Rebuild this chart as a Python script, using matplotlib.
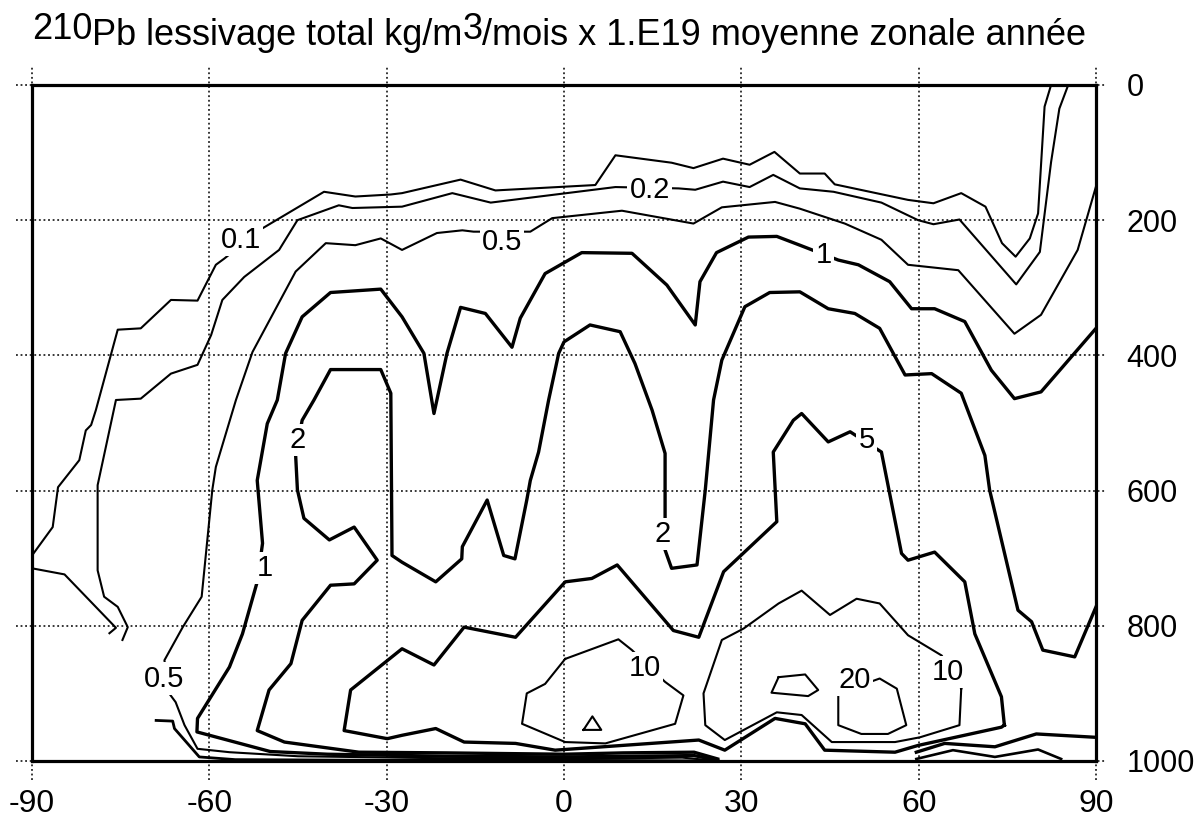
import matplotlib
matplotlib.use("Agg")
import matplotlib.pyplot as plt

plt.rcParams['font.family'] = ['Liberation Sans', 'DejaVu Sans']
plt.rcParams['axes.unicode_minus'] = False

# axes ticks
lat_ticks = [-90, -60, -30, 0, 30, 60, 90]
p_ticks = [0, 200, 400, 600, 800, 1000]

# contour 0.1 (main branch and short hooked branch at the left)
lat_c01a = [-90, -86.5, -85.6, -82.0, -80.9, -80.0, -79.2, -75.5, -71.6, -66.5,
            -62.0, -58.9, -57.5, -51.0, -40.6, -35.3, -29.3, -27.4, -17.5, -11.6,
            5.3, 8.7, 18.2, 21.9, 26.9, 31.4, 35.6, 39.9, 44.1, 45.8,
            58.2, 62.5, 67.2, 71.3, 74.1, 76.4, 78.8, 80.2, 81.3, 82.4]
p_c01a = [696, 654, 595, 555, 511, 503, 481, 362, 360, 318,
          319, 266, 257, 212, 158, 165, 162, 160, 140, 156,
          148, 104, 115, 123, 109, 118, 99, 131, 131, 147,
          170, 175, 160, 180, 234, 254, 227, 190, 32, 0]
lat_c01b = [-90, -84.5, -75.8, -76.9]
p_c01b = [715, 724, 803, 811]

# contour 0.2
lat_c02 = [-74.7, -73.8, -75.5, -77.8, -78.9, -78.9, -75.8, -71.6, -66.5, -62.0,
           -59.7, -57.8, -54.1, -48.2, -45.1, -38.1, -35.8, -27.4, -18.9, -12.4,
           8.7, 19.4, 22.2, 26.9, 31.4, 35.4, 39.9, 45.6, 53.7, 59.9,
           62.5, 66.9, 76.5, 80.5, 82.4, 83.8, 85.3]
p_c02 = [821, 802, 772, 757, 718, 592, 466, 464, 427, 414,
         370, 318, 284, 244, 200, 178, 182, 180, 160, 174,
         151, 153, 155, 143, 151, 133, 153, 158, 174, 200,
         206, 199, 295, 247, 114, 35, 0]

# contour 0.5
lat_c05 = [26, 20, 0, -20, -45, -56.6, -62.0, -64.2, -65.7, -66.8,
           -67.6, -64.5, -61.3, -59.5, -58.9, -55.5, -52.7, -45.4, -40.3, -35.3,
           -31.0, -27.4, -21.5, -17.2, -15.3, -5.7, -2.0, 9.8, 21.9, 26.7,
           35.7, 39.9, 47.5, 53.7, 58.2, 66.7, 76.2, 80.7, 86.9, 90]
p_c05 = [1000, 995, 997, 996, 993, 987, 982, 947, 913, 900,
         851, 802, 757, 599, 565, 466, 395, 276, 234, 237,
         227, 244, 219, 215, 217, 217, 197, 186, 205, 181,
         173, 183, 205, 229, 266, 274, 368, 340, 244, 150]

# contour 1
lat_c1 = [26, 22, 0, -20, -40, -49.7, -62.1, -62.0, -56.6, -54.4,
          -51.9, -51.0, -51.9, -50.2, -48.5, -47.1, -44.3, -39.5, -31.0, -27.4,
          -23.7, -22.0, -19.8, -17.5, -13.3, -8.8, -7.4, -3.2, 3.0, 11.5,
          17.4, 22.2, 23.0, 25.8, 31.2, 36.0, 39.9, 46.4, 49.8, 55.1,
          58.8, 62.7, 67.8, 72.3, 76.2, 80.7, 90]
p_c1 = [999, 992, 994, 993, 990, 986, 957, 937, 861, 812,
        735, 678, 585, 501, 466, 397, 343, 307, 302, 343,
        397, 486, 397, 329, 338, 388, 345, 279, 248, 249,
        296, 355, 291, 248, 225, 224, 237, 259, 266, 291,
        331, 331, 350, 422, 464, 454, 360]

# contour 2
lat_c2 = [26, 22, 10, 0, -20, -34.7, -47.3, -51.9, -49.9, -46.2,
          -44.3, -39.5, -35.5, -31.6, -35.5, -39.7, -44.0, -45.1, -45.4, -44.3,
          -42.3, -39.5, -31.0, -29.3, -29.1, -27.4, -21.7, -17.3, -17.2, -13.0,
          -10.2, -8.3, -6.3, -5.7, -4.3, -2.6, -0.9, 0, 4.4, 9.5,
          12.0, 14.9, 17.1, 17.1, 17.1, 18.2, 22.5, 23.9, 25.3, 26.7,
          30.6, 34.8, 39.9, 44.7, 49.2, 53.4, 57.7, 62.2, 67.2, 71.2,
          72.0, 76.8, 79.1, 81.0, 86.4, 90]
p_c2 = [997, 987, 988, 990, 988, 987, 972, 955, 895, 856,
        792, 740, 738, 703, 654, 673, 641, 599, 548, 496,
        466, 421, 421, 456, 696, 706, 735, 701, 683, 614,
        696, 701, 614, 585, 543, 466, 397, 380, 355, 365,
        412, 481, 545, 636, 688, 715, 710, 599, 466, 407,
        328, 307, 306, 331, 338, 360, 429, 427, 456, 548,
        599, 777, 794, 836, 846, 772]

# contour 5 (closed)
lat_c5 = [74.5, 74.0, 69.5, 67.8, 62.7, 58.2, 57.1, 53.7, 48.4, 44.7,
          40.2, 38.8, 35.4, 36.0, 27.0, 22.8, 18.5, 9.0, 4.7, 0.2,
          -8.2, -16.9, -22.0, -27.4, -36.1, -37.2, -29.9, -27.4, -21.7, -16.9,
          -8.2, -1.5, 22.8, 27.2, 35.7, 40.8, 44.1, 56.0, 59.9, 74.0, 74.5]
p_c5 = [947, 905, 812, 735, 691, 703, 693, 543, 513, 528,
        486, 496, 543, 646, 720, 817, 807, 710, 730, 735,
        817, 802, 858, 834, 895, 955, 967, 962, 952, 972,
        974, 984, 969, 984, 937, 945, 984, 987, 977, 950, 947]

# contour 10 (two cells)
lat_c10a = [0.2, 9.2, 11.5, 17.1, 20.2, 18.8, 7.0, 0.2, -7.1, -6.3, -3.2, 0.2]
p_c10a = [849, 820, 836, 883, 903, 945, 974, 972, 945, 900, 886, 849]
lat_c10b = [67.2, 66.9, 60.2, 56.0, 45.3, 40.2, 36.0, 27.2, 23.9, 23.6,
            26.7, 30.4, 36.3, 40.2, 45.0, 49.5, 53.4, 58.2, 63.9, 67.2]
p_c10b = [893, 947, 965, 972, 972, 932, 928, 969, 947, 900,
          821, 804, 767, 748, 784, 760, 767, 814, 844, 893]

# contour 20 (three small cells)
lat_c20a = [46.4, 46.4, 50.3, 54.8, 57.9, 56.3, 53.4, 46.4]
p_c20a = [900, 947, 960, 960, 947, 893, 878, 900]
lat_c20b = [36.3, 40.8, 43.0, 41.3, 35.1, 36.3]
p_c20b = [876, 872, 895, 904, 899, 876]
lat_c20c = [3.3, 4.8, 6.3, 3.3]
p_c20c = [954, 934, 954, 954]

# contours hugging the surface
lat_sa = [59.6, 64.4, 72.9, 79.9, 90]
p_sa = [987, 974, 979, 960, 965]
lat_sb = [59.6, 65.8, 72.9, 80.2, 84.1]
p_sb = [997, 984, 994, 983, 997]
lat_sc = [-69.0, -66.2, -65.9, -61.7, -55.6, -30, 0, 26]
p_sc = [940, 941, 952, 994, 998, 999, 999, 1000]

# contour labels
label_txt = ['0.1', '0.2', '0.5', '0.5', '1', '1', '2', '2', '5', '10', '10', '20']
label_lat = [-54.7, 14.5, -10.5, -67.6, -50.7, 43.9, -45.1, 16.6, 51.2, 13.7, 65.0, 49.2]
label_p = [229, 155, 232, 878, 715, 252, 525, 664, 525, 863, 868, 880]

THIN, THICK = 1.5, 2.4
lines = [
    (lat_c01a, p_c01a, THIN), (lat_c01b, p_c01b, THIN),
    (lat_c02, p_c02, THIN), (lat_c05, p_c05, THIN),
    (lat_c1, p_c1, THICK), (lat_c2, p_c2, THICK), (lat_c5, p_c5, THICK),
    (lat_c10a, p_c10a, THIN), (lat_c10b, p_c10b, THIN),
    (lat_c20a, p_c20a, THIN), (lat_c20b, p_c20b, THIN), (lat_c20c, p_c20c, THIN),
    (lat_sa, p_sa, THICK), (lat_sb, p_sb, 1.9), (lat_sc, p_sc, 2.0),
]

fig = plt.figure(figsize=(11.99, 8.21), dpi=100)
ax = fig.add_axes([0.0267, 0.0731, 0.8874, 0.8234])
ax.set_xlim(-90, 90)
ax.set_ylim(1000, 0)
ax.set_xticks(lat_ticks)
ax.set_yticks(p_ticks)
ax.yaxis.tick_right()
ax.tick_params(length=0)
ax.tick_params(axis='x', pad=20, labelsize=23)
ax.tick_params(axis='y', pad=22, labelsize=22)
for sp in ax.spines.values():
    sp.set_linewidth(2.3)
    sp.set_zorder(4)

# dotted grid, running a little past the frame
dots = (0, (1.2, 1.8))
for t in lat_ticks:
    ax.plot([t, t], [-0.028, 1.026], transform=ax.get_xaxis_transform(),
            color='black', lw=1.1, ls=dots, clip_on=False, zorder=1)
for t in p_ticks:
    ax.plot([-0.015, 1.009], [t, t], transform=ax.get_yaxis_transform(),
            color='black', lw=1.1, ls=dots, clip_on=False, zorder=1)

for la, pr, lw in lines:
    ax.plot(la, pr, color='black', lw=lw, zorder=2)

for s, la, pr in zip(label_txt, label_lat, label_p):
    ax.text(la, pr, s, ha='center', va='center', fontsize=21, zorder=3,
            bbox=dict(fc='white', ec='none', pad=1.5))

# title with raised "210" and "3"
title_parts = [("210", True), ("Pb lessivage total kg/m", False), ("3", True),
               ("/mois x 1.E19 moyenne zonale année", False)]
title_size = 26
fig.canvas.draw()
r = fig.canvas.get_renderer()
W, H = fig.bbox.width, fig.bbox.height
widths = []
for s, _ in title_parts:
    t = fig.text(0, 0, s, fontsize=title_size)
    widths.append(t.get_window_extent(r).width)
    t.remove()
x = (559 - sum(widths) / 2) / W
base = 1 - 45 / H
for (s, sup), w in zip(title_parts, widths):
    fig.text(x, base + (6 / H if sup else 0), s, fontsize=title_size,
             ha='left', va='baseline')
    x += w / W

fig.savefig('out.png', dpi=100)
